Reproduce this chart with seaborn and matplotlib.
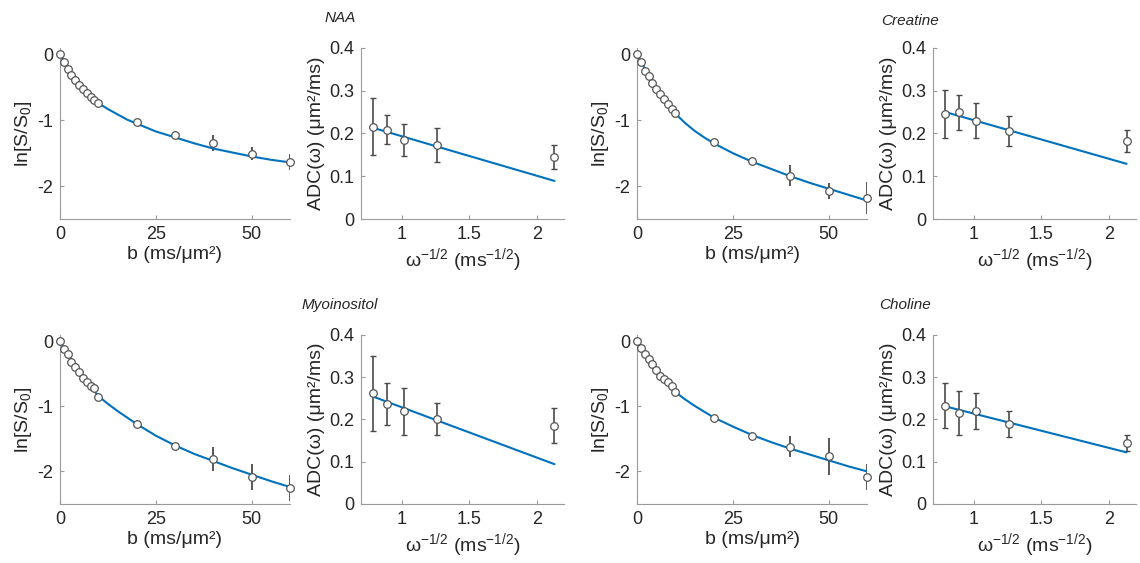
import matplotlib
matplotlib.use("Agg")
import matplotlib.pyplot as plt
import pandas as pd
import seaborn as sns

# diffusion weighting b (ms/um^2)
b_values = [0, 1, 2, 3, 4, 5, 6, 7, 8, 9, 10, 20, 30, 40, 50, 60]
b_fit = [0, 5, 10, 12.5, 15, 17.5, 20, 25, 30, 35, 40, 45, 50, 55, 60]

# omega^-1/2 (ms^-1/2)
omega_values = [0.79, 0.89, 1.02, 1.26, 2.13]
omega_fit = [0.79, 2.13]

# ln[S/S0] per metabolite
naa_signal = [0, -0.12, -0.215, -0.31, -0.385, -0.46, -0.52, -0.59, -0.64, -0.69, -0.74, -1.03, -1.23, -1.34, -1.51, -1.63]
naa_signal_err = [0, 0, 0, 0, 0, 0, 0, 0, 0, 0, 0.01, 0.03, 0.03, 0.12, 0.10, 0.12]
naa_signal_fit = [0, -0.45, -0.74, -0.83, -0.91, -0.99, -1.05, -1.17, -1.26, -1.35, -1.43, -1.49, -1.55, -1.60, -1.64]

creatine_signal = [0, -0.11, -0.245, -0.32, -0.43, -0.525, -0.60, -0.68, -0.755, -0.83, -0.89, -1.33, -1.62, -1.84, -2.07, -2.18]
creatine_signal_err = [0, 0, 0, 0, 0, 0, 0, 0, 0, 0, 0.01, 0.04, 0.04, 0.16, 0.12, 0.24]
creatine_signal_fit = [0, -0.52, -0.90, -1.04, -1.16, -1.26, -1.35, -1.50, -1.63, -1.74, -1.85, -1.95, -2.04, -2.13, -2.22]

myo_signal = [0, -0.12, -0.195, -0.31, -0.40, -0.47, -0.56, -0.63, -0.69, -0.72, -0.86, -1.27, -1.615, -1.81, -2.08, -2.25]
myo_signal_err = [0, 0, 0, 0, 0, 0, 0, 0, 0, 0, 0.01, 0.06, 0.05, 0.19, 0.20, 0.20]
myo_signal_fit = [0, -0.47, -0.84, -0.96, -1.07, -1.17, -1.27, -1.45, -1.60, -1.73, -1.84, -1.95, -2.05, -2.15, -2.24]

choline_signal = [0, -0.10, -0.19, -0.27, -0.35, -0.44, -0.53, -0.575, -0.625, -0.69, -0.785, -1.18, -1.45, -1.62, -1.77, -2.09]
choline_signal_err = [0, 0, 0, 0, 0, 0, 0, 0, 0, 0, 0.01, 0.05, 0.06, 0.16, 0.28, 0.20]
choline_signal_fit = [0, -0.44, -0.78, -0.89, -0.99, -1.08, -1.17, -1.31, -1.44, -1.55, -1.65, -1.74, -1.83, -1.92, -2.00]

# ADC(omega) (um^2/ms) per metabolite
naa_adc = [0.216, 0.209, 0.185, 0.173, 0.146]
naa_adc_err = [0.066, 0.034, 0.037, 0.039, 0.028]
naa_adc_fit = [0.213, 0.089]

creatine_adc = [0.245, 0.249, 0.230, 0.205, 0.183]
creatine_adc_err = [0.056, 0.040, 0.041, 0.035, 0.026]
creatine_adc_fit = [0.250, 0.129]

myo_adc = [0.262, 0.237, 0.219, 0.200, 0.185]
myo_adc_err = [0.089, 0.050, 0.055, 0.038, 0.041]
myo_adc_fit = [0.254, 0.094]

choline_adc = [0.233, 0.215, 0.220, 0.190, 0.144]
choline_adc_err = [0.053, 0.052, 0.042, 0.031, 0.019]
choline_adc_fit = [0.231, 0.122]

titles = ["NAA", "Creatine", "Myoinositol", "Choline"]

BLUE = "#0072BD"
EDGE = "#555555"
SPINE = "#9a9a9a"
TEXT = "#262626"

sns.set_style("ticks")
plt.rcParams["font.family"] = ["Liberation Sans", "DejaVu Sans"]
plt.rcParams["mathtext.default"] = "regular"
plt.rcParams["axes.unicode_minus"] = False
plt.rcParams["axes.edgecolor"] = SPINE
plt.rcParams["axes.labelcolor"] = TEXT


def style_axes(ax):
    sns.despine(ax=ax)
    ax.tick_params(direction="in", length=3, width=0.8, color=SPINE,
                   labelcolor=TEXT, labelsize=13, pad=5)
    for s in ["left", "bottom"]:
        ax.spines[s].set_linewidth(0.8)


def signal_panel(ax, y, yerr, yfit):
    ax.errorbar(b_values, y, yerr=yerr, fmt="none", ecolor="#4a4a4a",
                elinewidth=1.3, capsize=0, zorder=2)
    sns.lineplot(x=b_fit, y=yfit, ax=ax, color=BLUE, linewidth=1.5, zorder=3)
    sns.scatterplot(x=b_values, y=y, ax=ax, s=30, color="white",
                    edgecolor=EDGE, linewidth=0.9, zorder=4, clip_on=False)
    ax.set_xlim(0, 60)
    ax.set_ylim(-2.5, 0.1)
    ax.set_xticks([0, 25, 50])
    ax.set_yticks([-2, -1, 0])
    ax.set_xlabel("b (ms/μm²)", fontsize=14, labelpad=2)
    ax.set_ylabel("ln[S/S$_0$]", fontsize=14, labelpad=2)
    style_axes(ax)


def adc_panel(ax, y, yerr, yfit):
    ax.errorbar(omega_values, y, yerr=yerr, fmt="none", ecolor="#4a4a4a",
                elinewidth=1.2, capsize=2.5, capthick=1.0, zorder=2)
    sns.lineplot(x=omega_fit, y=yfit, ax=ax, color=BLUE, linewidth=1.5, zorder=3)
    sns.scatterplot(x=omega_values, y=y, ax=ax, s=30, color="white",
                    edgecolor=EDGE, linewidth=0.9, zorder=4, clip_on=False)
    ax.set_xlim(0.7, 2.2)
    ax.set_ylim(0, 0.4)
    ax.set_xticks([1, 1.5, 2])
    ax.set_xticklabels(["1", "1.5", "2"])
    ax.set_yticks([0, 0.1, 0.2, 0.3, 0.4])
    ax.set_yticklabels(["0", "0.1", "0.2", "0.3", "0.4"])
    ax.set_xlabel("ω$^{-1/2}$ (ms$^{-1/2}$)", fontsize=14, labelpad=2)
    ax.set_ylabel("ADC(ω) (μm²/ms)", fontsize=14, labelpad=3)
    style_axes(ax)


fig = plt.figure(figsize=(11.4, 5.63), dpi=100)

panels = [
    (naa_signal, naa_signal_err, naa_signal_fit, naa_adc, naa_adc_err, naa_adc_fit),
    (creatine_signal, creatine_signal_err, creatine_signal_fit, creatine_adc, creatine_adc_err, creatine_adc_fit),
    (myo_signal, myo_signal_err, myo_signal_fit, myo_adc, myo_adc_err, myo_adc_fit),
    (choline_signal, choline_signal_err, choline_signal_fit, choline_adc, choline_adc_err, choline_adc_fit),
]

# figure-fraction placement of each pair (left of signal axes, left of ADC axes, bottom, height)
col_left = [(0.0526, 0.3167), (0.5588, 0.8185)]
row_bottom = [(0.611, 0.304), (0.105, 0.300)]
title_pos = [(0.298, 0.968), (0.798, 0.963), (0.298, 0.458), (0.794, 0.458)]

for i, (sig, sig_err, sig_fit, adc, adc_err, adc_fit) in enumerate(panels):
    row, col = divmod(i, 2)
    left_sig, left_adc = col_left[col]
    bottom, height = row_bottom[row]
    ax1 = fig.add_axes([left_sig, bottom, 0.2018, height])
    ax2 = fig.add_axes([left_adc, bottom, 0.178, height])
    signal_panel(ax1, sig, sig_err, sig_fit)
    adc_panel(ax2, adc, adc_err, adc_fit)
    tx, ty = title_pos[i]
    fig.text(tx, ty, titles[i], fontsize=11, style="italic", color=TEXT,
             ha="center", va="center")

fig.savefig("out.png", dpi=100)
